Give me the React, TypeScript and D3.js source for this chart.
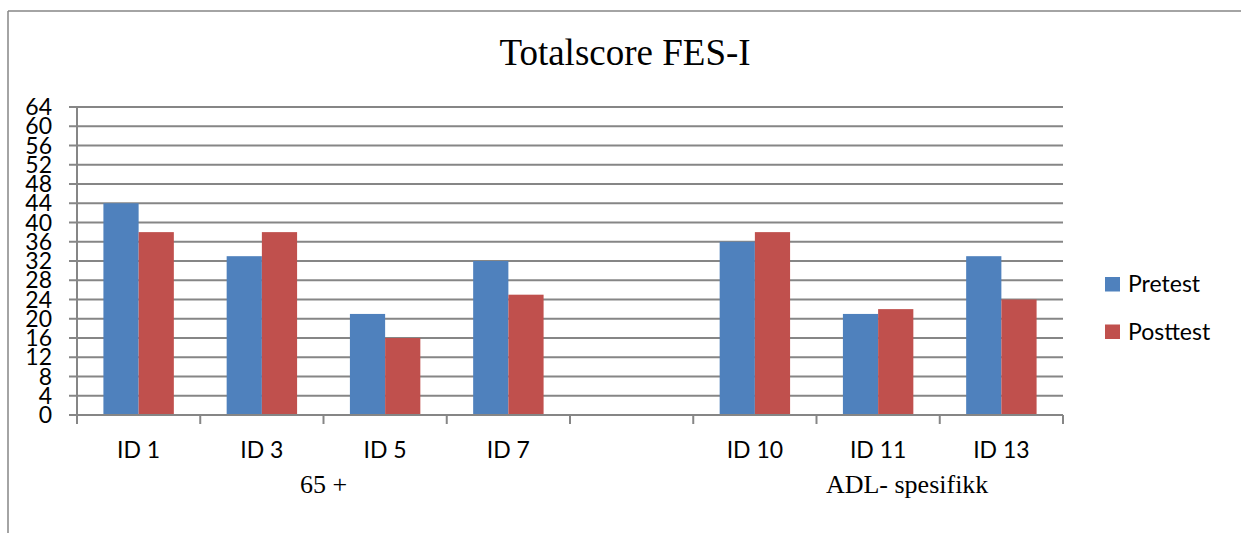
import React from "react";
import * as d3 from "d3";

const categories = ["ID 1", "ID 3", "ID 5", "ID 7", "", "ID 10", "ID 11", "ID 13"];
const pretest = [44, 33, 21, 32, null, 36, 21, 33];
const posttest = [38, 38, 16, 25, null, 38, 22, 24];
const yTicks = d3.range(0, 65, 4);
const seriesNames = ["Pretest", "Posttest"];
const seriesColors = ["#4F81BD", "#C0504D"];
const groups = [
  { label: "65 +", from: "ID 1", to: "ID 7", shift: 0 },
  { label: "ADL- spesifikk", from: "ID 10", to: "ID 13", shift: 29 },
];

const W = 1241;
const H = 533;
const plot = { left: 77, right: 1063, top: 107, bottom: 415 };
const grid = "#868686";

export default function App() {
  const x = d3.scaleBand<string>().domain(categories.map((c, i) => String(i))).range([plot.left, plot.right]).padding(0);
  const y = d3.scaleLinear().domain([0, 64]).range([plot.bottom, plot.top]);
  const step = x.bandwidth();
  const barW = step / 3.5;
  const series = [pretest, posttest];

  return (
    <svg width={W} height={H} style={{ position: "absolute", left: 0, top: 0, background: "#fff" }}>
      {/* frame */}
      <line x1={8} y1={11} x2={W + 2} y2={11} stroke={grid} strokeWidth={1.5} />
      <line x1={8} y1={11} x2={8} y2={H + 2} stroke={grid} strokeWidth={1.5} />

      <text x={625} y={65} textAnchor="middle" fontFamily="'Liberation Serif', 'Times New Roman', serif" fontSize={37} fill="#000">
        Totalscore FES-I
      </text>

      {/* gridlines */}
      {yTicks.map((t) => (
        <g key={t}>
          <line x1={plot.left - 8} x2={plot.right} y1={y(t)} y2={y(t)} stroke={grid} strokeWidth={2} />
          <text x={52} y={y(t) + 8} textAnchor="end" fontFamily="Lato, sans-serif" fontSize={23} fill="#000">
            {t}
          </text>
        </g>
      ))}

      {/* bars */}
      {categories.map((c, i) => {
        const cx = (x(String(i)) as number) + step / 2;
        return series.map((s, si) => {
          const v = s[i];
          if (v == null) return null;
          return (
            <rect
              key={`${i}-${si}`}
              x={cx - barW + si * barW}
              y={y(v)}
              width={barW}
              height={y(0) - y(v)}
              fill={seriesColors[si]}
            />
          );
        });
      })}

      {/* axes */}
      <line x1={plot.left} x2={plot.left} y1={plot.top} y2={plot.bottom} stroke={grid} strokeWidth={2} />
      <line x1={plot.left - 8} x2={plot.right} y1={plot.bottom} y2={plot.bottom} stroke={grid} strokeWidth={2} />
      {d3.range(categories.length + 1).map((i) => {
        const xx = plot.left + i * step;
        return <line key={i} x1={xx} x2={xx} y1={plot.bottom} y2={plot.bottom + 9} stroke={grid} strokeWidth={2} />;
      })}

      {/* category labels */}
      {categories.map((c, i) => (
        <text
          key={i}
          x={(x(String(i)) as number) + step / 2}
          y={458}
          textAnchor="middle"
          fontFamily="Lato, sans-serif"
          fontSize={23}
          fill="#000"
        >
          {c}
        </text>
      ))}

      {/* group labels */}
      {groups.map((g) => {
        const a = x(String(categories.indexOf(g.from))) as number;
        const b = (x(String(categories.indexOf(g.to))) as number) + step;
        return (
          <text
            key={g.label}
            x={(a + b) / 2 + g.shift}
            y={493}
            textAnchor="middle"
            fontFamily="'Liberation Serif', 'Times New Roman', serif"
            fontSize={26}
            fill="#000"
          >
            {g.label}
          </text>
        );
      })}

      {/* legend */}
      {seriesNames.map((n, i) => (
        <g key={n}>
          <rect x={1105} y={277 + i * 47.5} width={15} height={14.5} fill={seriesColors[i]} />
          <text x={1128} y={292 + i * 47.5} fontFamily="Lato, sans-serif" fontSize={23} fill="#000">
            {n}
          </text>
        </g>
      ))}
    </svg>
  );
}
